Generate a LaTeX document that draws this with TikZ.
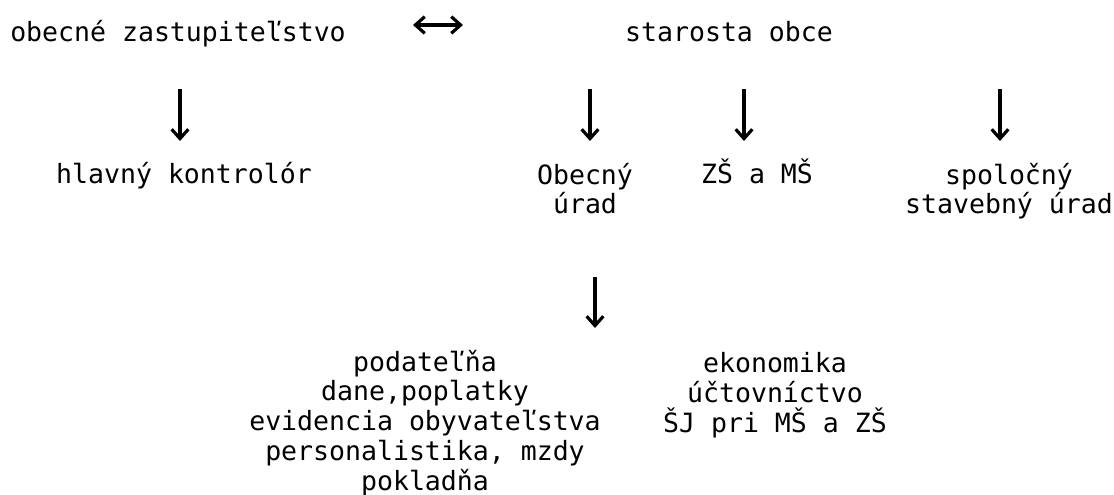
\documentclass[tikz,border=0pt]{standalone}
\usepackage{fontspec}
\usepackage{tikz}
\usetikzlibrary{arrows.meta, positioning, calc}
\newfontfamily\orgmono{DejaVu Sans Mono}

\tikzset{
  lbl/.style={anchor=base, inner sep=0pt, align=center, font=\orgmono\fontsize{19.9}{22.3}\selectfont},
  tip/.tip={Straight Barb[length=7pt,width=12.5pt]},
  darr/.style={line width=2.4pt, -tip},
}

\begin{document}
\begin{tikzpicture}[x=0.75pt, y=-0.75pt]
\useasboundingbox (0,0) rectangle (1114,495);
% top row
\node[lbl] (zast) at (178,42) {obecné zastupiteľstvo};
\node[lbl] (star) at (729,42) {starosta obce};
\coordinate (lnkL) at (413,25);
\coordinate (lnkR) at (463,25);
\draw[line width=2.4pt, tip-tip] (lnkL) -- (lnkR);
% second row (base = last line)
\node[lbl] (hk) at (184,184) {hlavný kontrolór};
\node[lbl] (ou) at (585,214) {Obecný\\úrad};
\node[lbl] (zsms) at (757,184) {ZŠ a MŠ};
\node[lbl] (sou) at (1009,214) {spoločný\\stavebný úrad};
\foreach \ax/\nm in {180/hk, 590/ou, 744/zsms, 1000/sou} {
  \coordinate (\nm-t) at (\ax,89);
  \coordinate (\nm-b) at (\ax,141);
  \draw[darr] (\nm-t) -- (\nm-b);
}
% departments of the office
\coordinate (ou-t2) at (595,277);
\coordinate (ou-b2) at (595,328);
\draw[darr] (ou-t2) -- (ou-b2);
\node[lbl] (podat) at (425,490) {podateľňa\\dane,poplatky\\evidencia obyvateľstva\\personalistika, mzdy\\pokladňa};
\node[lbl] (ekon) at (775,432) {ekonomika\\účtovníctvo\\ŠJ pri MŠ a ZŠ};
\end{tikzpicture}
\end{document}
